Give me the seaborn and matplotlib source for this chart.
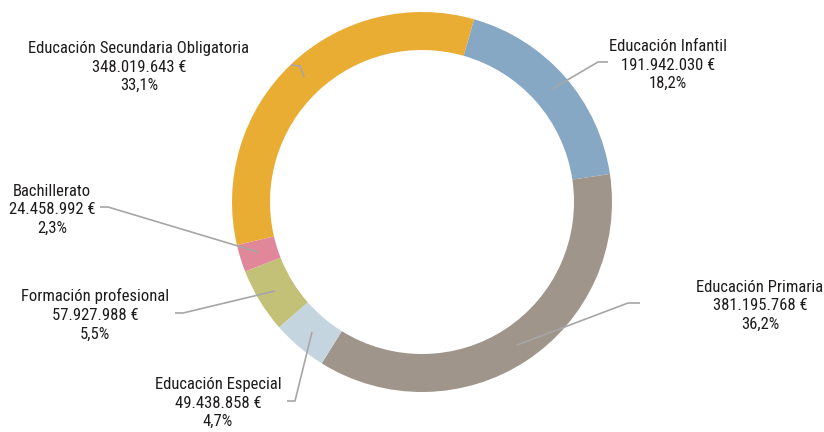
import matplotlib
matplotlib.use("Agg")
import matplotlib.pyplot as plt
import seaborn as sns

categories = ["Educación Infantil", "Educación Primaria", "Educación Especial",
              "Formación profesional", "Bachillerato", "Educación Secundaria Obligatoria"]
values = [191942030, 381195768, 49438858, 57927988, 24458992, 348019643]
percent_labels = ["18,2%", "36,2%", "4,7%", "5,5%", "2,3%", "33,1%"]
colors = ["#86A8C5", "#A0958A", "#C5D5E0", "#C3C077", "#E0889A", "#E9AD34"]

sns.set_theme(style="white")
plt.rcParams['font.family'] = ['Roboto Condensed', 'DejaVu Sans']

W, H = 824, 432
fig = plt.figure(figsize=(W / 100, H / 100), dpi=100)
cx, cy, R = 422, 202, 190
ax = fig.add_axes([(cx - R) / W, (H - cy - R) / H, 2 * R / W, 2 * R / H])
ax.pie(values, colors=colors, startangle=74.1, counterclock=False, radius=1,
       wedgeprops=dict(width=0.2, linewidth=0))
ax.set_xlim(-1, 1)
ax.set_ylim(-1, 1)
ax.set_aspect("equal")
ax.axis("off")


def P(px, py):
    return ((px - cx) / R, (cy - py) / R)


def fmt(v):
    return f"{v:,}".replace(",", ".") + " €"


# label anchor (text center in pixels) and leader line points in pixels
layout = [
    ((668, 65), [(608, 62), (598, 62), (552, 89)]),
    ((760, 306), [(640, 303), (628, 303), (517, 345)]),
    ((218, 403), [(287, 401), (295, 401), (312, 332)]),
    ((95, 315), [(175, 313), (183, 313), (275, 291)]),
    ((52, 210), [(100, 207), (108, 207), (258, 252)]),
    ((139, 67), [(291, 65), (300, 66), (304, 77)]),
]

for cat, v, pct, (tpos, line) in zip(categories, values, percent_labels, layout):
    x, y = P(*tpos)
    ax.text(x, y, f"{cat}\n{fmt(v)}\n{pct}", ha="center", va="center",
            multialignment="center", fontsize=12, color="#1E1B1C",
            linespacing=1.3, clip_on=False)
    pts = [P(*p) for p in line]
    ax.plot([p[0] for p in pts], [p[1] for p in pts], color="#A6A6A6",
            lw=1.2, clip_on=False, solid_capstyle="butt")

fig.savefig("out.png", dpi=100)
